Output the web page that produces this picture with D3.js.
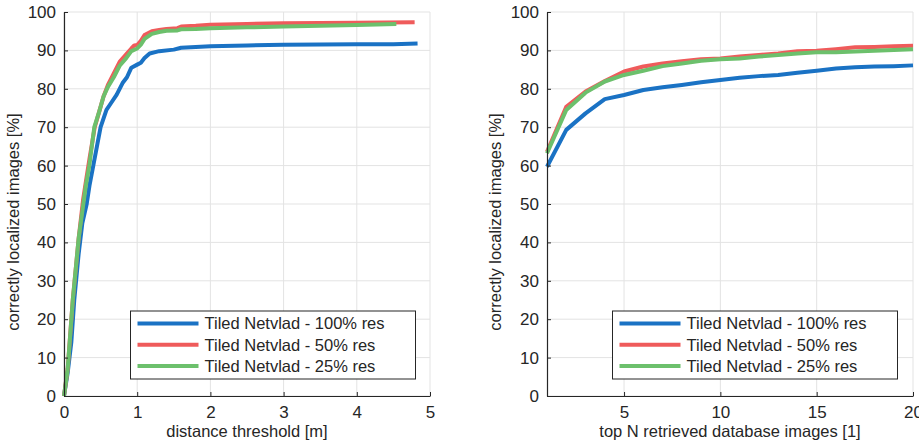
<!DOCTYPE html>
<html>
<head>
<meta charset="utf-8">
<script src="https://cdn.jsdelivr.net/npm/d3@7"></script>
<style>
  body { margin: 0; background: #fff; }
  svg text { font-family: "Liberation Sans", Arial, sans-serif; fill: #262626; }
</style>
</head>
<body>
<svg id="chart" width="919" height="443"></svg>
<script>
// series names, shared by both panels
var seriesNames = ["Tiled Netvlad - 100% res", "Tiled Netvlad - 50% res", "Tiled Netvlad - 25% res"];
var seriesColors = ["#1a72c4", "#ef5b5b", "#6cc06c"];

// left panel: [distance threshold m, % localized]
var dist100 = [[0,0],[0.05,6],[0.1,14],[0.14,25],[0.2,37],[0.25,45],[0.31,50],[0.35,55],[0.4,60],[0.45,65],[0.5,70],[0.58,74.5],[0.65,76.5],[0.72,78.5],[0.8,81.5],[0.86,83],[0.92,85.5],[1.0,86.3],[1.05,86.8],[1.1,88],[1.17,89.2],[1.3,89.8],[1.5,90.2],[1.6,90.7],[1.8,90.9],[2.0,91.1],[2.5,91.3],[3,91.5],[4,91.6],[4.5,91.6],[4.83,91.8]];
var dist50 = [[0,0],[0.05,7],[0.12,25],[0.2,41],[0.26,51],[0.3,56],[0.35,62],[0.42,70],[0.48,74],[0.54,78],[0.6,81],[0.68,84],[0.76,87],[0.85,89],[0.92,90.5],[0.96,91.3],[1.0,91.4],[1.05,92.5],[1.1,94],[1.2,95],[1.3,95.3],[1.4,95.6],[1.55,95.8],[1.6,96.2],[1.8,96.4],[2.0,96.7],[2.5,96.9],[3,97.1],[4,97.2],[4.79,97.3]];
var dist25 = [[0,0],[0.05,7],[0.12,25],[0.2,41],[0.264,50],[0.3,55],[0.346,60],[0.414,70],[0.48,74],[0.54,78],[0.6,80.5],[0.68,83],[0.76,86],[0.85,88],[0.92,89.8],[1.0,90.5],[1.05,91.5],[1.1,93],[1.2,94.3],[1.3,94.8],[1.4,95.1],[1.55,95.2],[1.6,95.5],[1.8,95.6],[2.0,95.8],[2.5,96],[3,96.2],[4,96.6],[4.54,96.9]];

// right panel: top N = 1..20
var topN = d3.range(1, 21);
var recall100 = [59.7,69.3,73.6,77.3,78.4,79.7,80.4,81,81.7,82.3,82.9,83.3,83.6,84.2,84.7,85.3,85.6,85.8,85.9,86.1];
var recall50 = [63.6,75.3,79.3,82,84.5,85.8,86.6,87.2,87.7,87.9,88.4,88.8,89.2,89.8,89.9,90.3,90.8,90.9,91.1,91.2];
var recall25 = [63.2,74.5,79,81.9,83.6,84.7,85.9,86.6,87.3,87.7,87.9,88.4,88.8,89.2,89.5,89.5,89.7,89.9,90.1,90.3];

var yTicks = [0,10,20,30,40,50,60,70,80,90,100];
var leftXTicks = [0,1,2,3,4,5];
var rightXTicks = [5,10,15,20];

var svg = d3.select("#chart");

function drawPanel(opt) {
  var g = svg.append("g");
  var x = d3.scaleLinear().domain(opt.xDomain).range([opt.x0, opt.x1]);
  var y = d3.scaleLinear().domain([0, 100]).range([396, 12]);

  // grid
  g.selectAll("line.gy").data(yTicks).enter().append("line")
    .attr("x1", opt.x0).attr("x2", opt.x1)
    .attr("y1", function (d) { return y(d); }).attr("y2", function (d) { return y(d); })
    .attr("stroke", "#e3e3e3").attr("stroke-width", 1);
  g.selectAll("line.gx").data(opt.xTicks).enter().append("line")
    .attr("x1", function (d) { return x(d); }).attr("x2", function (d) { return x(d); })
    .attr("y1", 12).attr("y2", 396)
    .attr("stroke", "#e3e3e3").attr("stroke-width", 1);

  // curves
  var line = d3.line().x(function (d) { return x(d[0]); }).y(function (d) { return y(d[1]); });
  opt.series.forEach(function (s, i) {
    g.append("path").datum(s)
      .attr("d", line)
      .attr("fill", "none")
      .attr("stroke", seriesColors[i])
      .attr("stroke-width", 4)
      .attr("stroke-linejoin", "round");
  });

  // axes (ticks pointing inward)
  var xAxis = d3.axisBottom(x).tickValues(opt.xTicks).tickFormat(d3.format("d"))
    .tickSizeInner(-4).tickSizeOuter(0).tickPadding(8);
  var yAxis = d3.axisLeft(y).tickValues(yTicks).tickFormat(d3.format("d"))
    .tickSizeInner(-4).tickSizeOuter(0).tickPadding(8);
  var gx = g.append("g").attr("transform", "translate(0,396)").call(xAxis);
  var gy = g.append("g").attr("transform", "translate(" + opt.x0 + ",0)").call(yAxis);
  [gx, gy].forEach(function (a) {
    a.select(".domain").attr("stroke", "#262626").attr("stroke-width", 1.2);
    a.selectAll(".tick line").attr("stroke", "#262626");
    a.selectAll(".tick text").attr("font-size", 17).attr("fill", "#262626")
      .style("font-family", "'Liberation Sans', Arial, sans-serif");
  });
  gx.selectAll(".tick text").attr("dy", "0.85em");

  // axis titles
  g.append("text").attr("x", (opt.x0 + opt.x1) / 2).attr("y", 437)
    .attr("text-anchor", "middle").attr("font-size", 16.5).text(opt.xLabel);
  g.append("text").attr("transform", "translate(" + opt.yLabelX + ",222) rotate(-90)")
    .attr("text-anchor", "middle").attr("font-size", 16.5).text("correctly localized images [%]");

  // legend
  var lx = opt.legendX, ly = 311;
  var lg = g.append("g").attr("transform", "translate(" + lx + "," + ly + ")");
  lg.append("rect").attr("width", 285).attr("height", 68)
    .attr("fill", "#fff").attr("stroke", "#262626").attr("stroke-width", 1);
  seriesNames.forEach(function (name, i) {
    var yy = 12.5 + i * 21.2;
    lg.append("line").attr("x1", 7).attr("x2", 68).attr("y1", yy).attr("y2", yy)
      .attr("stroke", seriesColors[i]).attr("stroke-width", 4);
    lg.append("text").attr("x", 74).attr("y", yy).attr("dy", "0.36em")
      .attr("font-size", 16.5).text(name);
  });
}

drawPanel({
  x0: 64, x1: 430, xDomain: [0, 5], xTicks: leftXTicks,
  series: [dist100, dist50, dist25],
  xLabel: "distance threshold [m]", yLabelX: 19, legendX: 130.5
});

function pairUp(vals) { return topN.map(function (n, i) { return [n, vals[i]]; }); }

drawPanel({
  x0: 547, x1: 913, xDomain: [1, 20], xTicks: rightXTicks,
  series: [pairUp(recall100), pairUp(recall50), pairUp(recall25)],
  xLabel: "top N retrieved database images [1]", yLabelX: 501, legendX: 612.5
});
</script>
</body>
</html>
